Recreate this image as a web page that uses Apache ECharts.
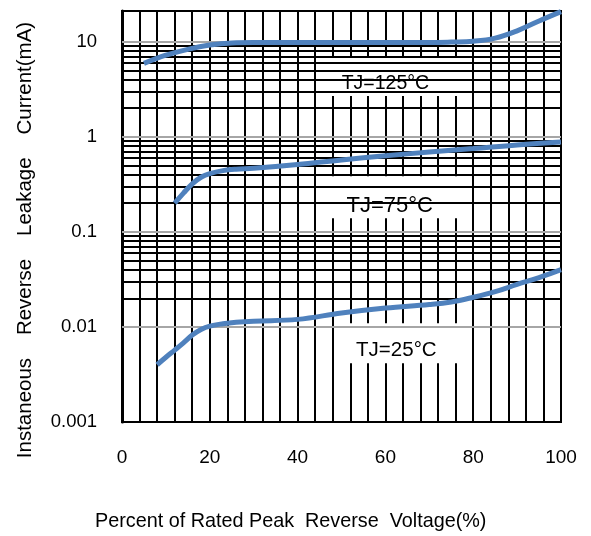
<!DOCTYPE html>
<html>
<head>
<meta charset="utf-8">
<script src="https://cdn.jsdelivr.net/npm/echarts@6/dist/echarts.min.js"></script>
<style>
html,body{margin:0;padding:0;background:#fff;}
#chart{width:591px;height:536px;}
</style>
</head>
<body>
<div id="chart"></div>
<script>
// ---- data ----
const x125 = [5, 10, 15, 20, 25, 30, 40, 50, 60, 70, 75, 80, 85, 90, 95, 100];
const y125 = [5.9, 7.2, 8.3, 9.2, 9.7, 9.8, 9.8, 9.8, 9.8, 9.8, 9.9, 10.1, 10.9, 13.0, 16.5, 20.7];
const x75 = [12, 14, 16, 18, 20, 23, 26, 30, 40, 50, 60, 70, 80, 90, 100];
const y75 = [0.2, 0.255, 0.32, 0.375, 0.41, 0.44, 0.455, 0.465, 0.51, 0.57, 0.63, 0.69, 0.75, 0.82, 0.88];
const x25 = [8, 10, 12, 14, 16, 18, 20, 23, 26, 30, 40, 50, 60, 70, 75, 80, 85, 90, 95, 100];
const y25 = [0.004, 0.0048, 0.0057, 0.0068, 0.0082, 0.0094, 0.0102, 0.0108, 0.0112, 0.0115, 0.012, 0.014, 0.0158, 0.0172, 0.0183, 0.0205, 0.0235, 0.028, 0.033, 0.04];
const xTickLabels = [0, 20, 40, 60, 80, 100];
const yTickValues = [0.001, 0.01, 0.1, 1, 10];
const yTickLabels = ['0.001', '0.01', '0.1', '1', '10'];
const curveLabels = ['TJ=125°C', 'TJ=75°C', 'TJ=25°C'];
const labelAt = [[60, 3.6], [61, 0.185], [62.5, 0.0057]];
const boxX = [[44.4, 78.1], [45.6, 78.4], [48.5, 78.4]];
const boxY = [[6.9, 2.68], [0.385, 0.139], [0.01094, 0.00415]];
const xTitle = 'Percent of Rated Peak  Reverse  Voltage(%)';
const yTitle = 'Instaneous    Reverse    Leakage    Current(mA)';

// ---- build ----
const zip = (xs, ys) => xs.map((x, i) => [x, ys[i]]);
const minorLines = [];
const decadeLines = [];
for (const d of [0.001, 0.01, 0.1, 1]) {
  for (let m = 2; m <= 9; m++) minorLines.push({ yAxis: m * d });
  decadeLines.push({ yAxis: d * 10 });
}
const labelSizes = [19.5, 22, 20.5];

const chart = echarts.init(document.getElementById('chart'), null, { renderer: 'canvas' });
const curveStyle = { color: '#4f81bd', width: 5 };
chart.setOption({
  animation: false,
  backgroundColor: '#fff',
  grid: { left: 122, right: 30, top: 11, bottom: 114, show: true, borderColor: '#000', borderWidth: 2, backgroundColor: 'transparent' },
  xAxis: {
    type: 'value', min: 0, max: 100, interval: 4,
    axisLine: { show: true, lineStyle: { color: '#000', width: 2 } },
    axisTick: { show: false },
    splitLine: { show: true, lineStyle: { color: '#000', width: 2 } },
    axisLabel: {
      margin: 26, fontSize: 19, color: '#000', fontFamily: 'Liberation Sans',
      formatter: v => (xTickLabels.includes(Math.round(v)) && Math.abs(v - Math.round(v)) < 1e-6) ? String(Math.round(v)) : ''
    }
  },
  yAxis: {
    type: 'log', logBase: 10, min: 0.001, max: 21,
    axisLine: { show: true, lineStyle: { color: '#000', width: 3 } },
    axisTick: { show: false },
    splitLine: { show: false },
    axisLabel: {
      margin: 25, fontSize: 18.5, color: '#000', fontFamily: 'Liberation Sans',
      showMaxLabel: false,
      formatter: v => {
        const i = yTickValues.findIndex(t => Math.abs(t - v) / t < 1e-6);
        return i >= 0 ? yTickLabels[i] : '';
      }
    }
  },
  graphic: [
    { type: 'text', left: 95, top: 512, style: { text: xTitle, fontSize: 19.8, fill: '#000', fontFamily: 'Liberation Sans' } },
    { type: 'text', x: 15, y: 240, rotation: Math.PI / 2, style: { text: yTitle, fontSize: 20.5, fill: '#000', fontFamily: 'Liberation Sans', align: 'center', verticalAlign: 'top' } }
  ],
  series: [
    {
      type: 'line', data: [], z: 3, silent: true,
      markLine: {
        silent: true, symbol: 'none', label: { show: false }, animation: false,
        lineStyle: { color: '#000', width: 2, type: 'solid' },
        data: minorLines
      }
    },
    {
      type: 'line', data: [], z: 3, silent: true,
      markLine: {
        silent: true, symbol: 'none', label: { show: false }, animation: false,
        lineStyle: { color: '#a6a6a6', width: 2, type: 'solid' },
        data: decadeLines
      }
    },
    {
      type: 'line', data: [], z: 4, silent: true,
      markArea: {
        silent: true, animation: false,
        itemStyle: { color: '#fff', opacity: 1 },
        data: boxX.map((bx, i) => [{ coord: [bx[0], boxY[i][0]] }, { coord: [bx[1], boxY[i][1]] }])
      },
      markPoint: {
        silent: true, animation: false, symbol: 'circle', symbolSize: 0,
        data: curveLabels.map((t, i) => ({
          name: t, coord: labelAt[i],
          label: { show: true, position: 'inside', formatter: '{b}', fontSize: labelSizes[i], color: '#000', fontFamily: 'Liberation Sans' }
        }))
      }
    },
    { type: 'line', name: curveLabels[0], data: zip(x125, y125), smooth: 0.4, showSymbol: false, z: 5, lineStyle: curveStyle },
    { type: 'line', name: curveLabels[1], data: zip(x75, y75), smooth: 0.4, showSymbol: false, z: 5, lineStyle: curveStyle },
    { type: 'line', name: curveLabels[2], data: zip(x25, y25), smooth: 0.4, showSymbol: false, z: 5, lineStyle: curveStyle }
  ]
});
</script>
</body>
</html>
